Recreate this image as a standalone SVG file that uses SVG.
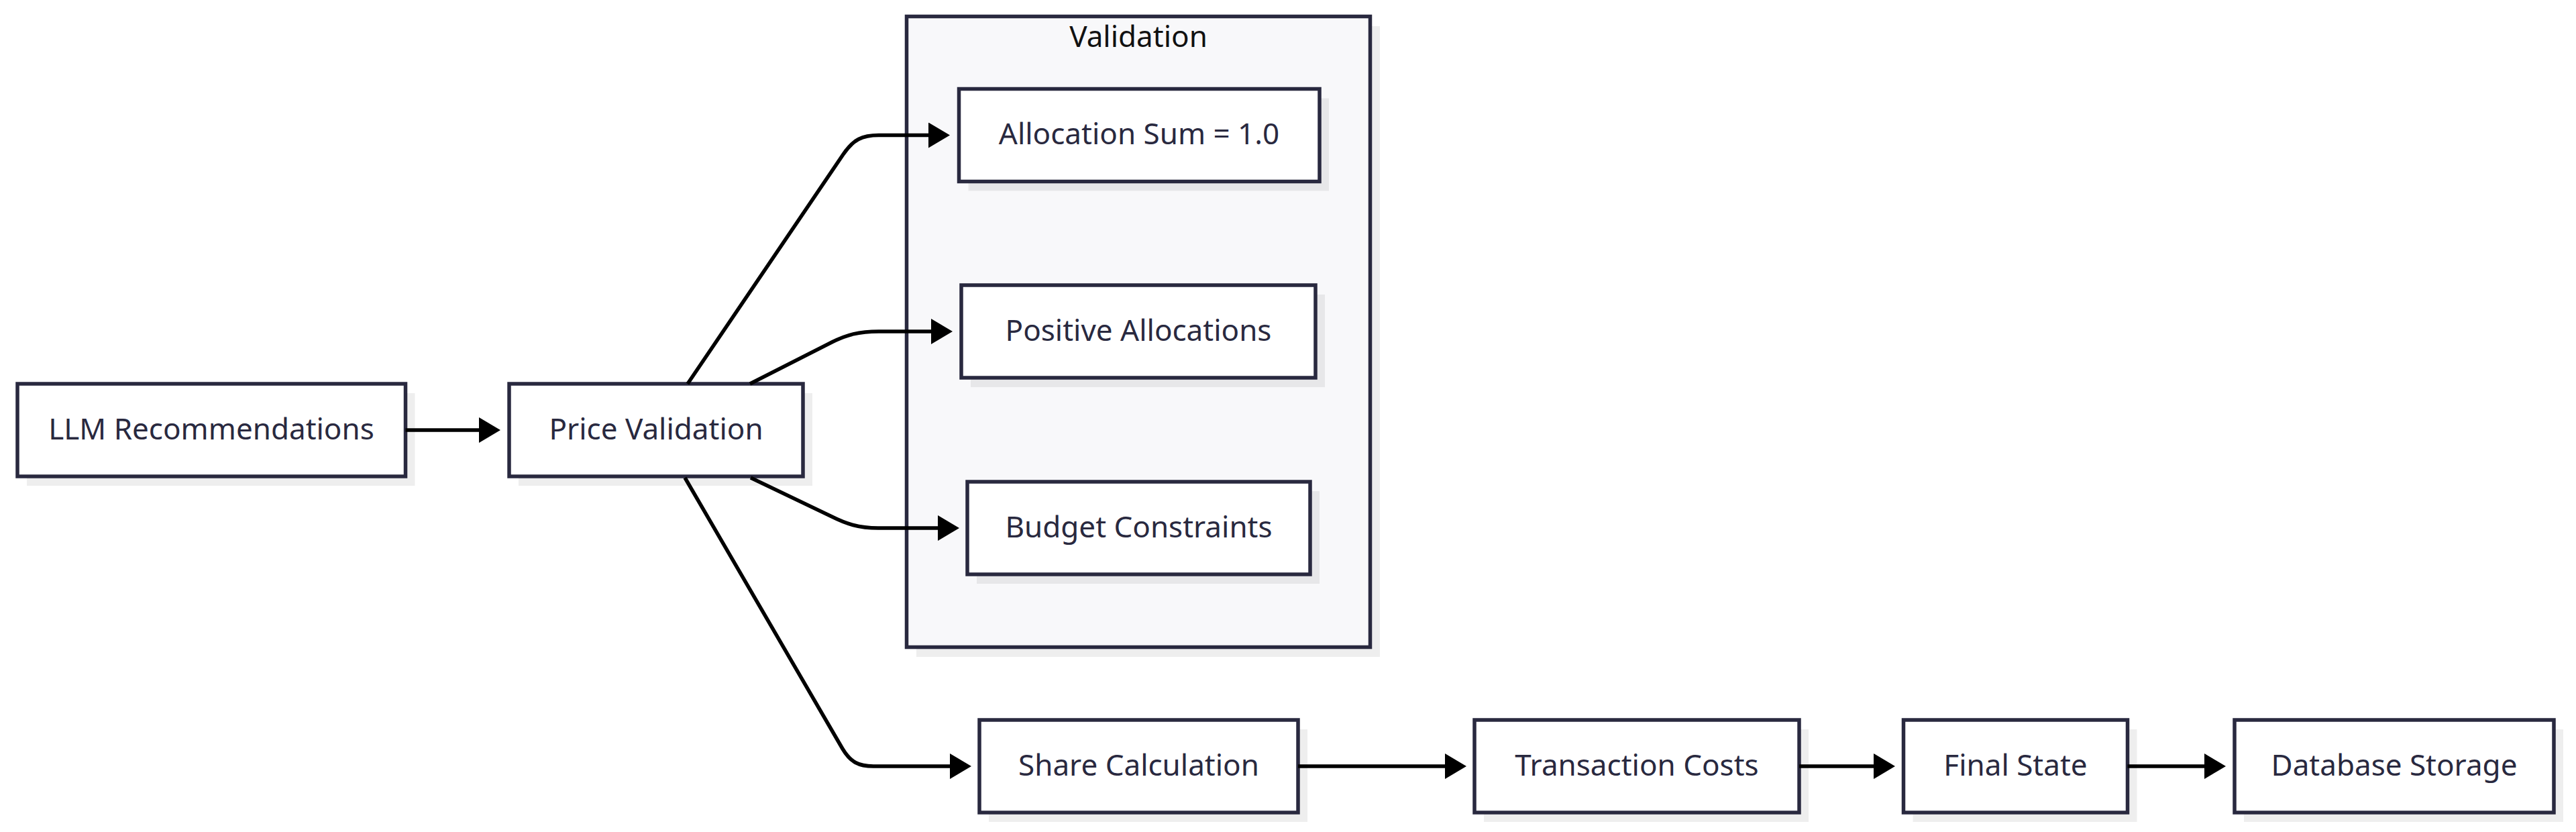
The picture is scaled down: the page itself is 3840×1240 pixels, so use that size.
<svg xmlns="http://www.w3.org/2000/svg" width="3840" height="1240" viewBox="0 0 3840 1240">
<style>
.box{fill:#ffffff;stroke:#29293f;stroke-width:5.5}
.shadow{fill:#000000;fill-opacity:0.065}
.cluster{fill:#f8f8fa;stroke:#29293f;stroke-width:5.5}
.label{font-family:"Noto Sans","Liberation Sans",sans-serif;font-size:44px;fill:#29293f;text-anchor:middle}
.title{font-family:"Noto Sans","Liberation Sans",sans-serif;font-size:44px;fill:#111111;text-anchor:middle}
.edge{fill:none;stroke:#000000;stroke-width:5.5;marker-end:url(#arrow)}
</style>
<defs>
<marker id="arrow" viewBox="0 0 10 10" markerUnits="userSpaceOnUse" markerWidth="32" markerHeight="38" refX="0" refY="5" orient="auto" preserveAspectRatio="none">
<path d="M0,0 L10,5 L0,10 z" fill="#000000"/>
</marker>
</defs>
<rect width="3840" height="1240" fill="#ffffff"/>
<g id="cluster-validation">
<rect class="shadow" x="1366" y="39" width="691" height="940"/>
<rect class="cluster" x="1351.5" y="24.5" width="691" height="940"/>
<text class="title" x="1697" y="70">Validation</text>
</g>
<g id="node-llm">
<rect class="shadow" x="40" y="586" width="578.5" height="138"/>
<rect class="box" x="26" y="572" width="578.5" height="138"/>
<text class="label" x="315" y="655">LLM Recommendations</text>
</g>
<g id="node-price">
<rect class="shadow" x="773" y="586" width="438" height="138"/>
<rect class="box" x="759" y="572" width="438" height="138"/>
<text class="label" x="978" y="655">Price Validation</text>
</g>
<g id="node-allocation">
<rect class="shadow" x="1443.5" y="146.5" width="537.5" height="138"/>
<rect class="box" x="1429.5" y="132.5" width="537.5" height="138"/>
<text class="label" x="1698" y="215">Allocation Sum = 1.0</text>
</g>
<g id="node-positive">
<rect class="shadow" x="1447" y="439" width="528" height="138"/>
<rect class="box" x="1433" y="425" width="528" height="138"/>
<text class="label" x="1697" y="508">Positive Allocations</text>
</g>
<g id="node-budget">
<rect class="shadow" x="1456" y="732" width="511" height="138"/>
<rect class="box" x="1442" y="718" width="511" height="138"/>
<text class="label" x="1697.5" y="801">Budget Constraints</text>
</g>
<g id="node-share">
<rect class="shadow" x="1474" y="1087" width="475" height="138"/>
<rect class="box" x="1460" y="1073" width="475" height="138"/>
<text class="label" x="1697.5" y="1156">Share Calculation</text>
</g>
<g id="node-transaction">
<rect class="shadow" x="2212" y="1087" width="484" height="138"/>
<rect class="box" x="2198" y="1073" width="484" height="138"/>
<text class="label" x="2440" y="1156">Transaction Costs</text>
</g>
<g id="node-final">
<rect class="shadow" x="2851.5" y="1087" width="334" height="138"/>
<rect class="box" x="2837.5" y="1073" width="334" height="138"/>
<text class="label" x="3004.5" y="1156">Final State</text>
</g>
<g id="node-database">
<rect class="shadow" x="3345" y="1087" width="476" height="138"/>
<rect class="box" x="3331" y="1073" width="476" height="138"/>
<text class="label" x="3569" y="1156">Database Storage</text>
</g>
<g id="connectors">
<path class="edge" d="M604.5,641 L714,641"/>
<path class="edge" d="M1025,572 L1257,230 C1272,208 1285,201.5 1310,201.5 L1384,201.5"/>
<path class="edge" d="M1118,572 L1240,510 C1262,499 1280,494 1310,494 L1388,494"/>
<path class="edge" d="M1119,712 L1238,769 C1262,781 1280,787 1309,787 L1398,787"/>
<path class="edge" d="M1021,712 L1256,1116 C1268,1136 1280,1142 1302,1142 L1416,1142"/>
<path class="edge" d="M1935,1142 L2154,1142"/>
<path class="edge" d="M2682,1142 L2793,1142"/>
<path class="edge" d="M3171.5,1142 L3286,1142"/>
</g>
</svg>
